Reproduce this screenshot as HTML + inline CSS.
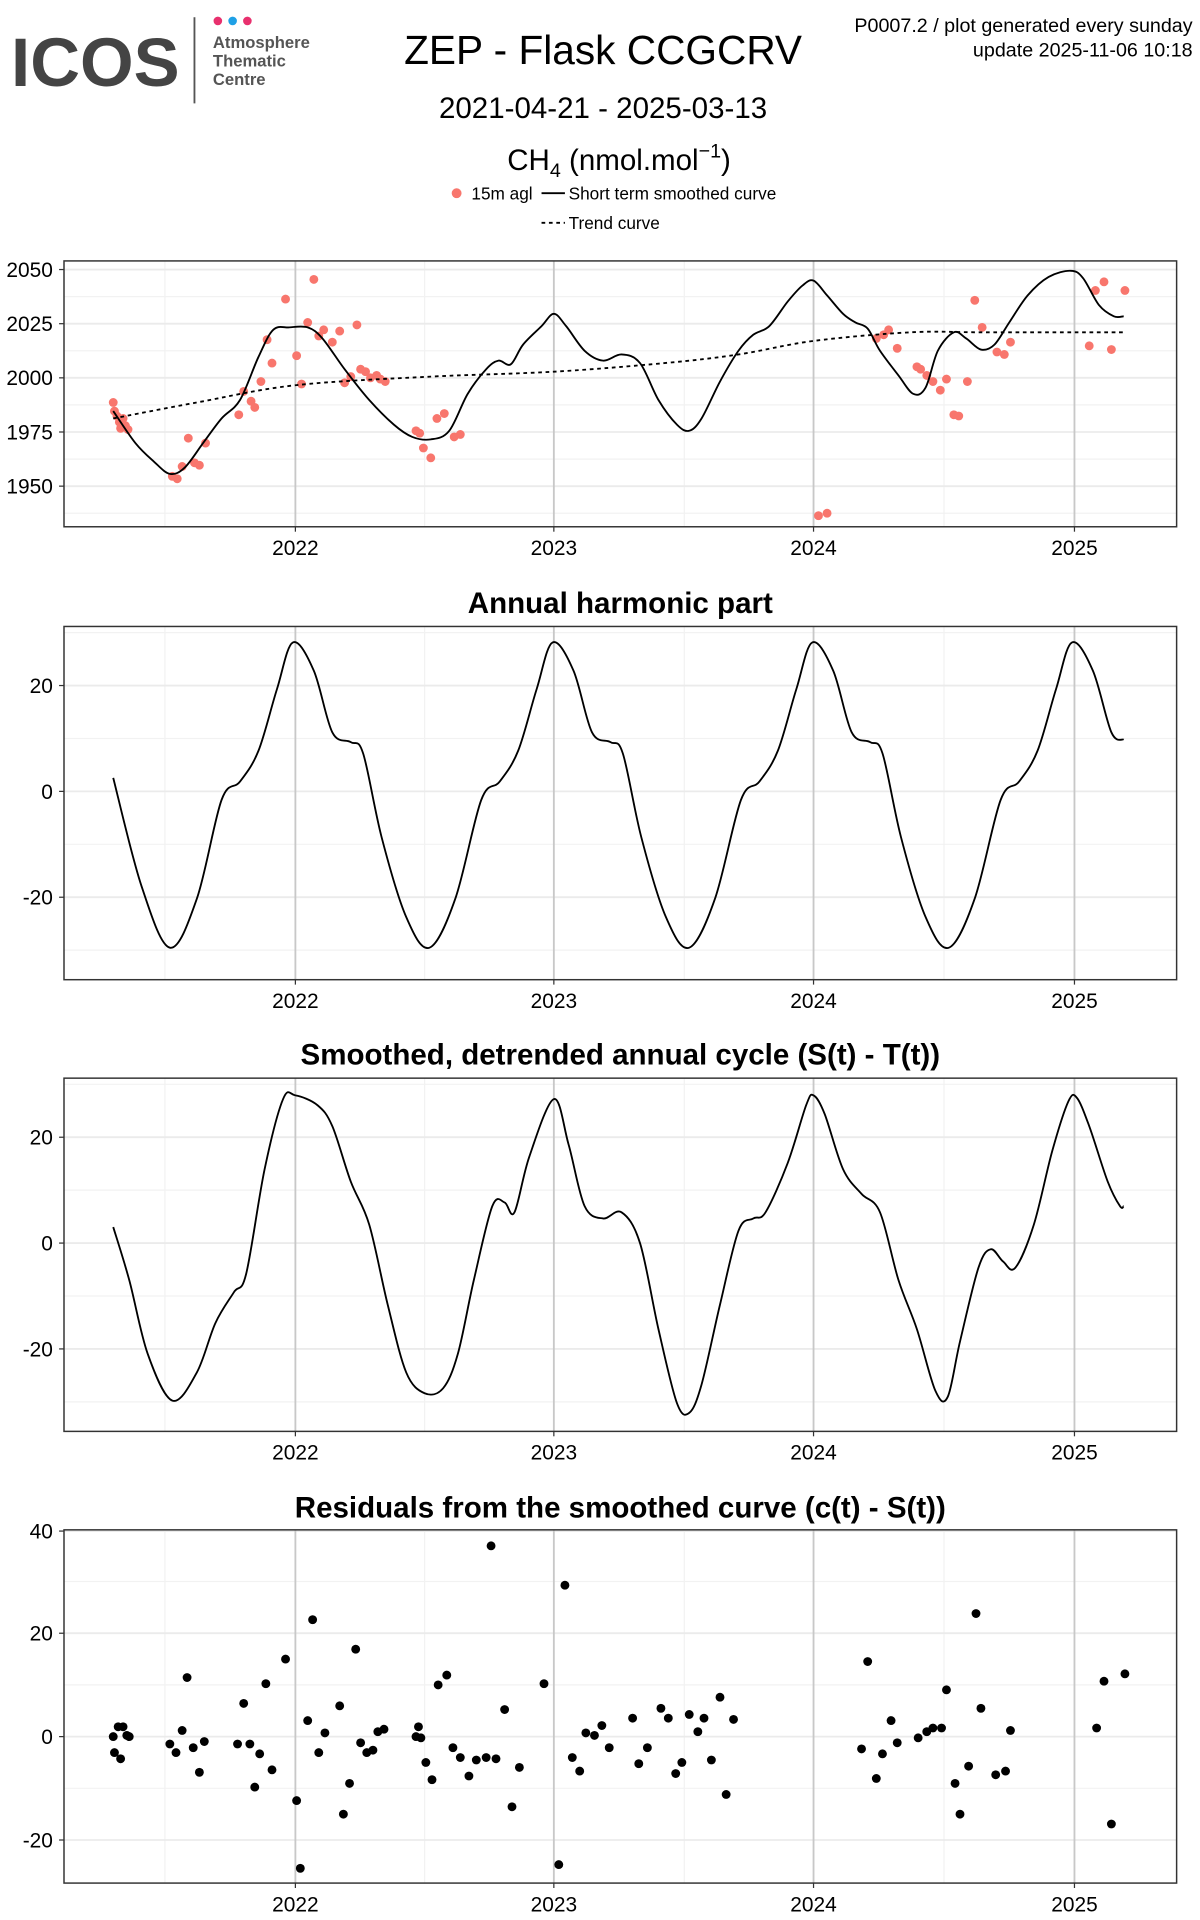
<!DOCTYPE html>
<html><head><meta charset="utf-8"><style>
html,body{margin:0;padding:0;background:#fff;}
svg{display:block;font-family:"Liberation Sans",sans-serif;}
</style></head><body>
<svg id="s" width="1200" height="1920" viewBox="0 0 975 1560" xmlns="http://www.w3.org/2000/svg">
<rect width="975" height="1560" fill="#fff"/>
<text x="9" y="70" font-size="56" font-weight="bold" fill="#444" letter-spacing="0">ICOS</text>
<line x1="158" y1="14" x2="158" y2="84" stroke="#555" stroke-width="1.5"/>
<circle cx="177" cy="17" r="3.5" fill="#e8306e"/><circle cx="189" cy="17" r="3.5" fill="#1ea0e6"/><circle cx="201" cy="17" r="3.5" fill="#e8306e"/>
<g font-size="13.5" font-weight="bold" fill="#555"><text x="173" y="39">Atmosphere</text><text x="173" y="54">Thematic</text><text x="173" y="69">Centre</text></g>
<text x="490" y="52" font-size="33" text-anchor="middle">ZEP - Flask CCGCRV</text>
<text x="490" y="96" font-size="24" text-anchor="middle">2021-04-21 - 2025-03-13</text>
<text x="503" y="138" font-size="24" text-anchor="middle">CH<tspan font-size="16" dy="6">4</tspan><tspan dy="-6"> (nmol.mol</tspan><tspan font-size="16" dy="-10">−1</tspan><tspan dy="10">)</tspan></text>
<circle cx="371" cy="157" r="4" fill="#F8766D"/>
<g font-size="14"><text x="383" y="162">15m agl</text><text x="462" y="162">Short term smoothed curve</text><text x="462" y="186">Trend curve</text></g>
<line x1="440" y1="157" x2="459" y2="157" stroke="#000" stroke-width="1.5"/>
<line x1="440" y1="181" x2="459" y2="181" stroke="#000" stroke-width="1.5" stroke-dasharray="3,3"/>
<g font-size="16" text-anchor="end"><text x="969" y="26">P0007.2 / plot generated every sunday</text><text x="969" y="46">update  2025-11-06 10:18</text></g>
<g id="panels"></g>
<g font-size="24" font-weight="bold" text-anchor="middle">
<text x="504" y="498">Annual harmonic part</text>
<text x="504" y="865">Smoothed, detrended annual cycle (S(t) - T(t))</text>
<text x="504" y="1233">Residuals from the smoothed curve (c(t) - S(t))</text></g>
</svg>
<script>
var NS="http://www.w3.org/2000/svg",G=document.getElementById("panels");
function el(t,a,p){var e=document.createElementNS(NS,t);for(var k in a)e.setAttribute(k,a[k]);(p||G).appendChild(e);return e;}
function txt(x,y,s,anch){var e=el("text",{x:x,y:y,"font-size":17,"text-anchor":anch});e.textContent=s;}
var years=[240,450,661,873];
function panel(y0,y1,ticks,minors){
 el("rect",{x:52,y:y0,width:904,height:y1-y0,fill:"#fff"});
 [134,345,556,767].forEach(function(x){el("line",{x1:x,y1:y0,x2:x,y2:y1,stroke:"#f2f2f2","stroke-width":1});});
 minors.forEach(function(y){el("line",{x1:52,y1:y,x2:956,y2:y,stroke:"#f2f2f2","stroke-width":1});});
 ticks.forEach(function(t){el("line",{x1:52,y1:t[1],x2:956,y2:t[1],stroke:"#ebebeb","stroke-width":1.5});
  el("line",{x1:48,y1:t[1],x2:52,y2:t[1],stroke:"#333"});txt(43,t[1]+6,t[0],"end");});
 years.forEach(function(x,i){el("line",{x1:x,y1:y0,x2:x,y2:y1,stroke:"#c8c8c8","stroke-width":1.5});
  el("line",{x1:x,y1:y1,x2:x,y2:y1+4,stroke:"#333"});txt(x,y1+23,String(2022+i),"middle");});
 el("rect",{x:52,y:y0,width:904,height:y1-y0,fill:"none",stroke:"#333","stroke-width":1.2});
}
function cr(p){var d="M"+p[0][0]+","+p[0][1];for(var i=0;i<p.length-1;i++){var a=p[i-1]||p[i],b=p[i],c=p[i+1],e=p[i+2]||c;
 d+="C"+(b[0]+(c[0]-a[0])/6).toFixed(1)+","+(b[1]+(c[1]-a[1])/6).toFixed(1)+" "+(c[0]-(e[0]-b[0])/6).toFixed(1)+","+(c[1]-(e[1]-b[1])/6).toFixed(1)+" "+c[0]+","+c[1];}return d;}
function line(p,dash){var a={d:cr(p),fill:"none",stroke:"#000","stroke-width":1.5};if(dash)a["stroke-dasharray"]="3,3";el("path",a);}
function dots(p,c){p.forEach(function(q){el("circle",{cx:q[0],cy:q[1],r:3.6,fill:c});});}
panel(212,428,[["2050",219],["2025",263],["2000",307],["1975",351],["1950",395]],[241,285,329,373,417]);
dots([[92,327],[93,334],[95,338],[97,343],[98,348],[100,340],[102,346],[104,349],[140,387],[144,389],[148,379],[153,356],[158,376],[162,378],[167,360],[194,337],[198,318],[204,326],[207,331],[212,310],[217,276],[221,295],[232,243],[241,289],[245,312],[250,262],[255,227],[259,273],[263,268],[270,278],[276,269],[280,311],[285,306],[290,264],[293,300],[297,302],[301,307],[306,305],[309,308],[313,310],[338,350],[341,352],[344,364],[350,372],[355,340],[361,336],[369,355],[374,353],[665,419],[672,417],[712,275],[718,272],[722,268],[729,283],[745,298],[748,300],[753,305],[758,310],[764,317],[769,308],[775,337],[779,338],[786,310],[792,244],[798,266],[810,286],[816,288],[821,278],[885,281],[890,236],[897,229],[903,284],[914,236]],"#F8766D");
line([[92,334],[110,360],[125,375],[138,385],[150,380],[165,360],[180,340],[195,325],[210,290],[222,268],[235,266],[250,266],[262,275],[280,300],[300,325],[320,345],[335,355],[350,357],[365,350],[380,320],[395,300],[405,293],[415,296],[425,280],[440,265],[450,255],[460,265],[475,285],[490,293],[505,288],[520,295],[535,325],[550,345],[560,350],[570,340],[585,310],[600,285],[612,272],[625,265],[640,245],[652,232],[661,228],[672,240],[685,255],[695,262],[705,267],[715,285],[730,305],[742,320],[752,315],[762,285],[775,270],[785,275],[797,284],[808,280],[820,262],[835,240],[852,225],[870,220],[880,226],[893,248],[905,257],[913,257]]);
line([[92,340],[160,327],[240,313],[350,306],[450,302],[540,295],[600,288],[661,277],[740,270],[800,270],[913,270]],true);
panel(509,796,[["20",557],["0",643],["-20",729]],[514,600,686,772]);
(function(){var s=[[-45,635],[-30,610],[-15,560],[-2,522],[15,545],[30,595],[45,603],[55,612],[70,680],[90,745],[109,770],[130,730],[151,650]];
 var p=[[92,632],[115,720],[138,770],[160,730],[180,650]];
 for(var k=0;k<4;k++){var b=240+k*211;s.forEach(function(q){var x=b+q[0];if(x<=906)p.push([x,q[1]]);});}
 p.push([913,601]);line(p);})();
panel(876,1163,[["20",924],["0",1010],["-20",1096]],[881,967,1053,1139]);
line([[92,997],[105,1040],[120,1100],[140,1138],[160,1115],[175,1075],[190,1050],[200,1035],[215,950],[230,893],[240,890],[258,898],[270,915],[285,960],[300,995],[315,1060],[330,1115],[345,1132],[360,1128],[372,1100],[385,1040],[400,980],[410,977],[418,985],[430,940],[450,893],[462,930],[475,980],[490,990],[505,985],[520,1010],[535,1080],[550,1140],[560,1148],[570,1125],[585,1060],[600,1000],[612,990],[622,985],[640,945],[655,898],[661,890],[670,905],[685,950],[700,970],[715,985],[730,1040],[745,1080],[760,1130],[770,1135],[780,1090],[795,1030],[805,1015],[815,1025],[825,1030],[840,995],[855,935],[868,895],[875,892],[885,915],[900,960],[910,980],[913,980]]);
panel(1243,1530,[["40",1244],["20",1327],["0",1411],["-20",1495]],[1285,1369,1453]);
dots([[92,1411],[93,1424],[96,1403],[98,1429],[100,1403],[103,1410],[105,1411],[138,1417],[143,1424],[148,1406],[152,1363],[157,1420],[162,1440],[166,1415],[193,1417],[198,1384],[203,1417],[207,1452],[211,1425],[216,1368],[221,1438],[232,1348],[241,1463],[244,1518],[250,1398],[254,1316],[259,1424],[264,1408],[276,1386],[279,1474],[284,1449],[289,1340],[293,1416],[298,1424],[303,1422],[307,1407],[312,1405],[338,1411],[340,1403],[342,1412],[346,1432],[351,1446],[356,1369],[363,1361],[368,1420],[374,1428],[381,1443],[387,1430],[395,1428],[399,1256],[403,1429],[410,1389],[416,1468],[422,1436],[442,1368],[454,1515],[459,1288],[465,1428],[471,1439],[476,1408],[483,1410],[489,1402],[495,1420],[514,1396],[519,1433],[526,1420],[537,1388],[543,1396],[549,1441],[554,1432],[560,1393],[567,1407],[572,1396],[578,1430],[585,1379],[590,1458],[596,1397],[705,1350],[700,1421],[712,1445],[717,1425],[724,1398],[729,1416],[746,1412],[753,1407],[758,1404],[765,1404],[769,1373],[776,1449],[780,1474],[787,1435],[793,1311],[797,1388],[809,1442],[817,1439],[821,1406],[891,1404],[897,1366],[903,1482],[914,1360]],"#000");
</script>
</body></html>
